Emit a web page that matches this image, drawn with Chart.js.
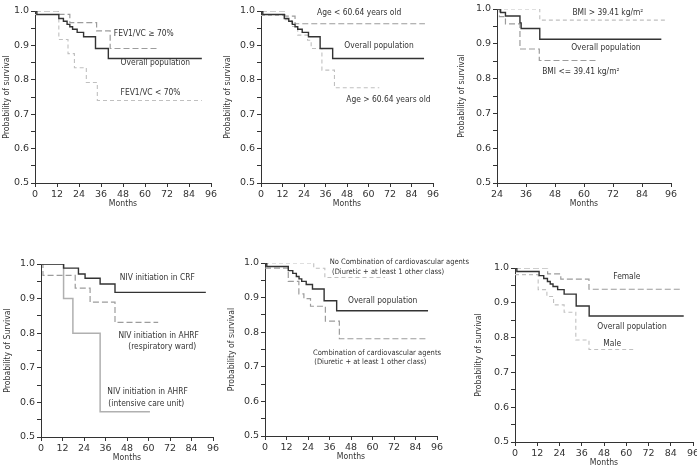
<!DOCTYPE html>
<html><head><meta charset="utf-8">
<script src="https://cdn.jsdelivr.net/npm/chart.js@4"></script>
<style>
html,body{margin:0;padding:0;background:#fff;}
#wrap{position:relative;width:697px;height:469px;overflow:hidden;background:#fff;}
canvas{position:absolute;}
</style></head><body><div id="wrap"></div>
<script>
// ---------- data (months, probability of survival) ----------
const overallMonths = [0, 1, 13, 15.5, 17.5, 19, 20.5, 23, 26.5, 33, 40, 91];
const overallSurv   = [1, 0.99, 0.978, 0.97, 0.961, 0.954, 0.947, 0.938, 0.925, 0.891, 0.862, 0.862];

const fevHighMonths = [0, 12.7, 19, 33.6, 41, 67];
const fevHighSurv   = [1, 0.99, 0.966, 0.942, 0.891, 0.891];
const fevLowMonths  = [0, 13, 18, 21.5, 28, 34, 91];
const fevLowSurv    = [0.99, 0.917, 0.876, 0.835, 0.792, 0.74, 0.74];

const ageYoungMonths = [0, 13.4, 19, 91.5];
const ageYoungSurv   = [1, 0.985, 0.963, 0.963];
const ageOldMonths   = [0, 13, 17, 20.5, 26, 28, 34, 41, 66];
const ageOldSurv     = [0.987, 0.975, 0.955, 0.93, 0.915, 0.891, 0.828, 0.777, 0.777];

const bmiOverallMonths = [24, 25.5, 27.5, 33.5, 34, 41.7, 92];
const bmiOverallSurv   = [1, 0.99, 0.98, 0.96, 0.944, 0.913, 0.913];
const bmiHighMonths    = [24, 41.7, 94];
const bmiHighSurv      = [1, 0.968, 0.968];
const bmiLowMonths     = [24, 25, 27.5, 33.5, 41.5, 66];
const bmiLowSurv       = [1, 0.978, 0.957, 0.885, 0.852, 0.852];

const crfMonths  = [0, 12.6, 20.9, 24.6, 33, 41.3, 92];
const crfSurv    = [1, 0.988, 0.971, 0.959, 0.942, 0.918, 0.918];
const wardMonths = [0, 1.1, 19.1, 27.4, 41.3, 65.4];
const wardSurv   = [1, 0.967, 0.93, 0.89, 0.831, 0.831];
const icuMonths  = [0, 12.6, 17.8, 33, 60.8];
const icuSurv    = [1, 0.9, 0.8, 0.573, 0.573];

const noCombMonths = [0, 27.2, 33.4, 67];
const noCombSurv   = [1, 0.985, 0.958, 0.958];
const combMonths   = [0, 13, 18.9, 21.7, 25.4, 33.7, 41.5, 91];
const combSurv     = [0.985, 0.947, 0.911, 0.897, 0.875, 0.832, 0.781, 0.781];

const femaleMonths = [0, 17.6, 24.7, 39.9, 89];
const femaleSurv   = [1, 0.983, 0.968, 0.939, 0.939];
const maleMonths   = [0, 12.5, 17.2, 20.8, 26.5, 32.8, 39.9, 64.5];
const maleSurv     = [0.981, 0.938, 0.918, 0.894, 0.873, 0.793, 0.766, 0.766];

// ---------- label texts with anchors (month, survival) ----------
const labels1 = [["FEV1/VC \u2265 70%", 43, 0.935], ["Overall population", 46.7, 0.848], ["FEV1/VC < 70%", 46.7, 0.761]];
const labels2 = [["Age < 60.64 years old", 31.3, 0.996], ["Overall population", 46.5, 0.898], ["Age > 60.64 years old", 47.6, 0.743]];
const labels3 = [["BMI > 39.41 kg/m\u00b2", 55.2, 0.99], ["Overall population", 54.7, 0.889], ["BMI <= 39.41 kg/m\u00b2", 42.7, 0.82]];
const labels4 = [["NIV initiation in CRF", 44, 0.959], ["NIV initiation in AHRF", 43.2, 0.793], ["(respiratory ward)", 48.7, 0.761],
                 ["NIV initiation in AHRF", 37, 0.631], ["(intensive care unit)", 37.6, 0.597]];
const labels5 = [["No Combination of cardiovascular agents", 36.1, 1.003, 7.5], ["(Diuretic + at least 1 other class)", 37.4, 0.974, 7.5],
                 ["Overall population", 46.3, 0.89], ["Combination of cardiovascular agents", 26.8, 0.74, 7.5], ["(Diuretic + at least 1 other class)", 27.5, 0.713, 7.5]];
const labels6 = [["Female", 53, 0.975], ["Overall population", 44.4, 0.831], ["Male", 47.6, 0.781]];

// ---------- styling ----------
const TEXT_FONT = "'DejaVu Sans Condensed','DejaVu Sans',sans-serif";
const TICK_FONT = "'DejaVu Sans',sans-serif";
const STYLE = {
  overall:    {borderColor:'#333333', borderWidth:1.4, borderDash:[]},
  medium:     {borderColor:'#9c9c9c', borderWidth:1.2, borderDash:[6,3]},
  light:      {borderColor:'#c0c0c0', borderWidth:1.1, borderDash:[4,3]},
  lightSolid: {borderColor:'#b0b0b0', borderWidth:1.5, borderDash:[]}
};

function series(m, s, style){
  return Object.assign({data: m.map((x,i)=>({x:x, y:s[i]})), stepped:true, pointRadius:0, fill:false, tension:0}, STYLE[style]);
}

const labelPlugin = {
  id:'kmLabels',
  afterDatasetsDraw(chart, args, opts){
    const ctx = chart.ctx, xs = chart.scales.x, ys = chart.scales.y;
    ctx.save();
    ctx.fillStyle = '#333'; ctx.textBaseline = 'middle'; ctx.textAlign = 'left';
    (opts.items||[]).forEach(it=>{
      ctx.font = (it[3]||8.4) + 'px ' + TEXT_FONT;
      ctx.fillText(it[0], xs.getPixelForValue(it[1]), ys.getPixelForValue(it[2]));
    });
    ctx.restore();
  }
};

const panels = [
  {box:[0,0,232,215], plot:[35,211,11,183], yt:7, xmin:0, title:'Probability of survival', labels:labels1,
   ds:[series(overallMonths,overallSurv,'overall'), series(fevHighMonths,fevHighSurv,'medium'), series(fevLowMonths,fevLowSurv,'light')]},
  {box:[221,0,233,215], plot:[261,433,11,183], yt:228, xmin:0, title:'Probability of survival', labels:labels2,
   ds:[series(overallMonths,overallSurv,'overall'), series(ageYoungMonths,ageYoungSurv,'medium'), series(ageOldMonths,ageOldSurv,'light')]},
  {box:[456,0,241,215], plot:[497,671,9,183], yt:462, xmin:24, title:'Probability of survival', labels:labels3,
   ds:[series(bmiOverallMonths,bmiOverallSurv,'overall'), series(bmiHighMonths,bmiHighSurv,'light'), series(bmiLowMonths,bmiLowSurv,'medium')]},
  {box:[0,225,232,244], plot:[41,213,264,437], yt:7.5, xmin:0, title:'Probability of Survival', labels:labels4,
   ds:[series(crfMonths,crfSurv,'overall'), series(wardMonths,wardSurv,'medium'), series(icuMonths,icuSurv,'lightSolid')]},
  {box:[225,225,250,244], plot:[265,437,263,436], yt:232, xmin:0, title:'Probability of survival', labels:labels5,
   ds:[series(overallMonths,overallSurv,'overall'), series(noCombMonths,noCombSurv,'light'), series(combMonths,combSurv,'medium')]},
  {box:[472,225,225,244], plot:[515,693,268,442], yt:479, xmin:0, title:'Probability of survival', labels:labels6,
   ds:[series(overallMonths,overallSurv,'overall'), series(femaleMonths,femaleSurv,'medium'), series(maleMonths,maleSurv,'light')]}
];

const wrap = document.getElementById('wrap');
const TITLE_SIZE = 8.6, TITLE_LH = TITLE_SIZE*1.2;

panels.forEach(p=>{
  const [L,T,W,H] = p.box; const [pl,pr,pt,pb] = p.plot;
  const c = document.createElement('canvas');
  c.width = W; c.height = H;
  c.style.left = L+'px'; c.style.top = T+'px'; c.style.width = W+'px'; c.style.height = H+'px';
  wrap.appendChild(c);
  const xAxisH = T+H-pb;
  new Chart(c, {
    type:'line',
    data:{datasets:p.ds},
    options:{
      responsive:false, animation:false, devicePixelRatio:1,
      layout:{padding:{left:0, top:pt-T, right:L+W-pr, bottom:0}},
      plugins:{legend:{display:false}, tooltip:{enabled:false}, kmLabels:{items:p.labels}},
      scales:{
        x:{type:'linear', min:p.xmin, max:96,
           ticks:{stepSize:12, autoSkip:false, maxRotation:0, color:'#333', padding:2, font:{family:TICK_FONT, size:9.5}},
           grid:{display:true, drawOnChartArea:false, drawTicks:true, tickLength:4, color:'#333'},
           border:{display:true, color:'#333', width:1},
           title:{display:true, text:'Months', color:'#333', font:{family:TEXT_FONT, size:TITLE_SIZE}, padding:{top:0, bottom:(xAxisH-20.5-TITLE_LH/2)}},
           afterFit(s){ s.height = xAxisH; s.paddingLeft = 0; s.paddingRight = 0; }},
        y:{type:'linear', min:0.5, max:1.0,
           ticks:{stepSize:0.05, autoSkip:false, color:'#333', padding:2, font:{family:TICK_FONT, size:9.5},
                  callback:(v)=> (Math.round(v*100)%10===0) ? v.toFixed(1) : ''},
           grid:{display:true, drawOnChartArea:false, drawTicks:true, tickLength:4, color:'#333'},
           border:{display:true, color:'#333', width:1},
           title:{display:true, text:p.title, color:'#333', font:{family:TEXT_FONT, size:TITLE_SIZE}, padding:{top:(p.yt-L-TITLE_LH/2), bottom:0}},
           afterFit(s){ s.width = pl-L; s.paddingTop = 0; s.paddingBottom = 0; }}
      }
    },
    plugins:[labelPlugin]
  });
});
</script></body></html>
